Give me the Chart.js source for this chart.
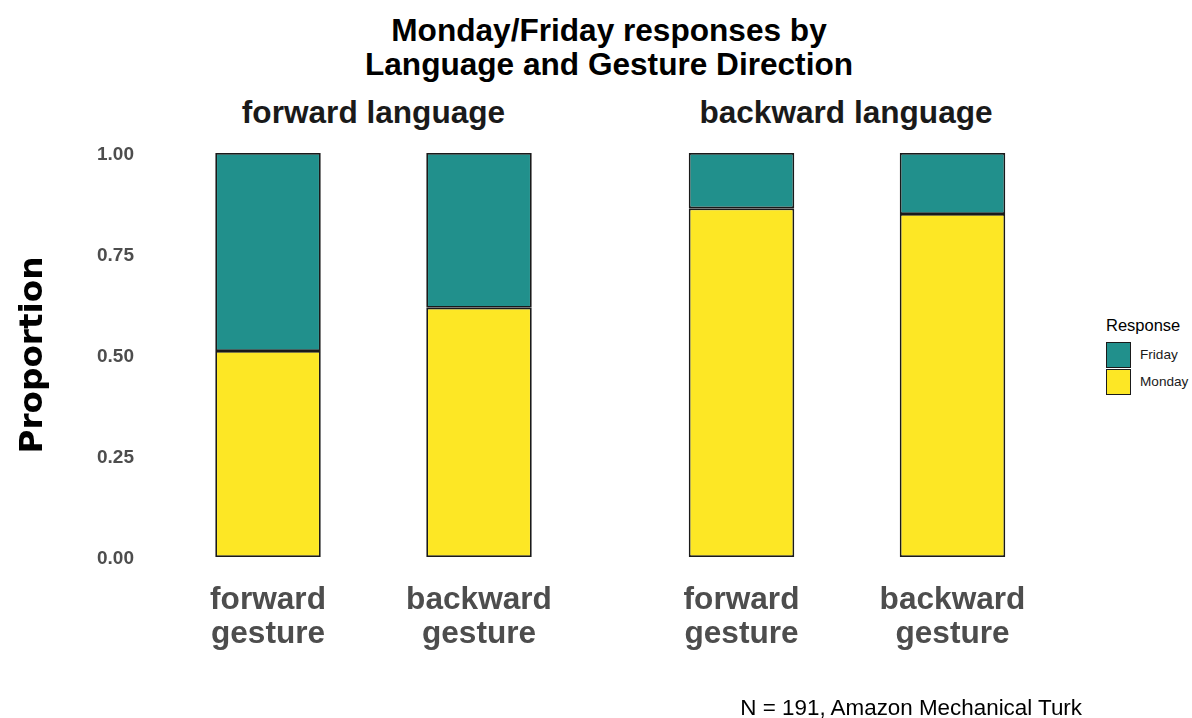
<!DOCTYPE html>
<html>
<head>
<meta charset="utf-8">
<script src="https://cdn.jsdelivr.net/npm/chart.js@4.4.1/dist/chart.umd.min.js"></script>
<style>
  body { margin: 0; background: #fff; width: 1192px; height: 718px; overflow: hidden; position: relative; font-family: 'Liberation Sans', Arial, sans-serif; }
  canvas { position: absolute; top: 0; }
  .txt { position: absolute; white-space: nowrap; }
  #title { left: 309px; width: 600px; top: 13px; text-align: center; font-weight: bold; font-size: 31.6px; line-height: 34px; color: #000; }
  .facet { top: 95px; width: 400px; text-align: center; font-weight: bold; font-size: 31.6px; line-height: 34px; color: #1a1a1a; }
  #caption { right: 110px; top: 695px; font-size: 22.4px; line-height: 26px; color: #000; }
  #legend { left: 1106px; top: 315px; }
  #legend .head { font-size: 16.5px; line-height: 20px; color: #000; margin-bottom: 6px; }
  #legend .row { display: flex; align-items: center; height: 27px; }
  #legend .key { width: 25px; height: 26px; border: 1px solid #1a1a1a; box-sizing: border-box; }
  #legend .lab { font-size: 13.6px; margin-left: 9px; color: #1a1a1a; }
</style>
</head>
<body>
<div id="title" class="txt">Monday/Friday responses by<br>Language and Gesture Direction</div>
<div class="txt facet" style="left:173.5px">forward language</div>
<div class="txt facet" style="left:646px">backward language</div>

<canvas id="leftPanel" width="600" height="718" style="left:0px"></canvas>
<canvas id="rightPanel" width="422" height="718" style="left:635.5px"></canvas>

<div id="legend" class="txt">
  <div class="head">Response</div>
  <div class="row"><div class="key" style="background:#21908C"></div><div class="lab">Friday</div></div>
  <div class="row"><div class="key" style="background:#FDE725"></div><div class="lab">Monday</div></div>
</div>
<div id="caption" class="txt">N = 191, Amazon Mechanical Turk</div>

<script>
// Gesture direction categories (x axis of each panel)
const gestures = [['forward', 'gesture'], ['backward', 'gesture']];

// Proportions per panel (language direction)
const forwardLangMonday = [0.510, 0.617];
const forwardLangFriday = [0.490, 0.383];
const backwardLangMonday = [0.863, 0.849];
const backwardLangFriday = [0.137, 0.151];

// y axis ticks
const yTicks = [0, 0.25, 0.5, 0.75, 1];

const tealColor = '#21908C';
const yellowColor = '#FDE725';

// Build options for one facet panel
const panelOptions = (showY, padRight) => ({
    responsive: false,
    animation: false,
    layout: { padding: { top: 153, right: padRight, left: 0, bottom: 0 } },
    plugins: { legend: { display: false }, tooltip: { enabled: false } },
    scales: {
        x: {
            stacked: true,
            grid: { display: false, drawTicks: false },
            border: { display: false },
            ticks: {
                padding: 26,
                color: '#4d4d4d',
                font: { family: "'Liberation Sans', Arial, sans-serif", size: 31.6, weight: 'bold', lineHeight: 1.08 }
            },
            afterFit: (scale) => { scale.height = 161; }
        },
        y: {
            stacked: true,
            display: showY,
            min: 0,
            max: 1,
            grid: { display: false, drawTicks: false },
            border: { display: false },
            afterBuildTicks: (scale) => { scale.ticks = yTicks.map(v => ({ value: v })); },
            ticks: {
                padding: 28.5,
                labelOffset: 2,
                color: '#4d4d4d',
                font: { family: "'Liberation Sans', Arial, sans-serif", size: 19, weight: 'bold' },
                callback: (v) => Number(v).toFixed(2)
            },
            title: {
                display: showY,
                text: 'Proportion',
                color: '#000',
                padding: { top: 13.4, bottom: 0 },
                font: { family: "'DejaVu Sans', sans-serif", size: 32.7, weight: 'bold', lineHeight: 1.2 }
            },
            afterFit: (scale) => { if (showY) scale.width = 162.5; }
        }
    }
});

const makeDatasets = (monday, friday) => ([
    {
        label: 'Monday',
        data: monday,
        backgroundColor: yellowColor,
        borderColor: '#1a1a1a',
        borderWidth: 1.8,
        borderSkipped: false,
        barPercentage: 0.5,
        categoryPercentage: 1
    },
    {
        label: 'Friday',
        data: friday,
        backgroundColor: tealColor,
        borderColor: '#1a1a1a',
        borderWidth: 1.8,
        borderSkipped: false,
        barPercentage: 0.5,
        categoryPercentage: 1
    }
]);

// Left panel: forward language
new Chart(document.getElementById('leftPanel').getContext('2d'), {
    type: 'bar',
    data: { labels: gestures, datasets: makeDatasets(forwardLangMonday, forwardLangFriday) },
    options: panelOptions(true, 600 - 584.5)
});

// Right panel: backward language
new Chart(document.getElementById('rightPanel').getContext('2d'), {
    type: 'bar',
    data: { labels: gestures, datasets: makeDatasets(backwardLangMonday, backwardLangFriday) },
    options: panelOptions(false, 0)
});
</script>
</body>
</html>
